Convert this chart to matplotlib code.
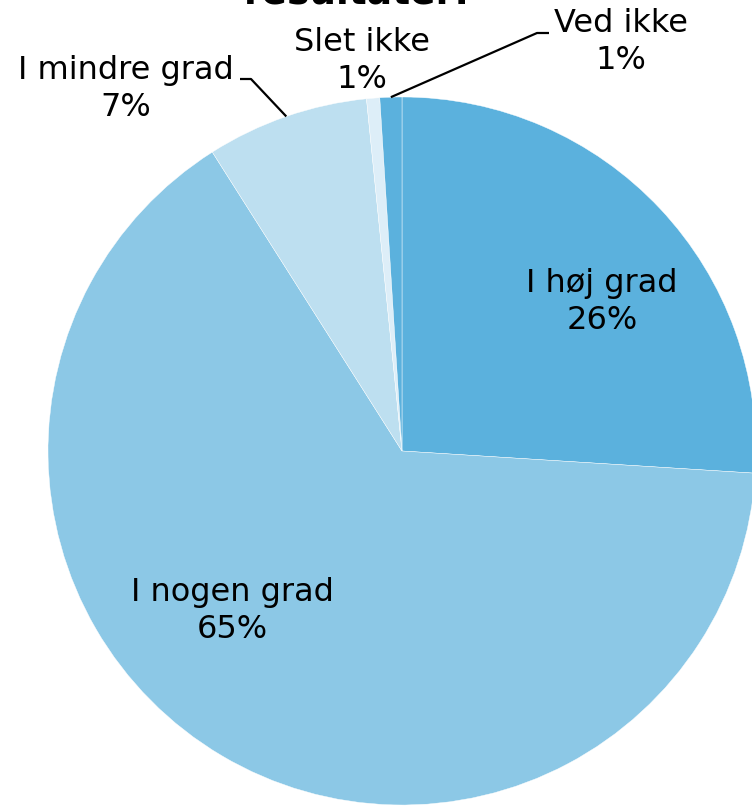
import numpy as np
import matplotlib.pyplot as plt

# data
categories = ['I høj grad', 'I nogen grad', 'I mindre grad', 'Slet ikke', 'Ved ikke']
values = [26.0, 65.0, 7.4, 0.6, 1.0]
pct_labels = ['26%', '65%', '7%', '1%', '1%']
colors = ['#5BB1DD', '#8CC8E6', '#BDDFF0', '#DDEEF8', '#5BB1DD']

W, H = 752, 806
fig = plt.figure(figsize=(W / 100, H / 100), dpi=100)
ax = fig.add_axes([0, 0, 1, 1])

cx, cy, r = 402, H - 451, 354
wedges, _ = ax.pie(values, colors=colors, startangle=90, counterclock=False,
                   center=(cx, cy), radius=r, frame=True,
                   wedgeprops=dict(edgecolor='white', linewidth=0.3))
ax.set_xlim(0, W)
ax.set_ylim(0, H)
ax.set_aspect('equal')
ax.set_axis_off()

fs = 23
ls = 1.28
# inside labels
inside = {0: (602, H - 302), 1: (232, H - 611)}
for i, (x, y) in inside.items():
    ax.text(x, y, f'{categories[i]}\n{pct_labels[i]}', ha='center', va='center',
            fontsize=fs, color='black', linespacing=ls)

# outside labels with leader lines
outside = {
    2: dict(text=(126, H - 89), elbow=[(240, H - 79), (251, H - 79)]),
    3: dict(text=(362, H - 61), elbow=None),
    4: dict(text=(621, H - 42), elbow=[(549, H - 33), (537, H - 33)]),
}
for i, o in outside.items():
    ax.text(o['text'][0], o['text'][1], f'{categories[i]}\n{pct_labels[i]}',
            ha='center', va='center', fontsize=fs, color='black', linespacing=ls)
    if o['elbow'] is not None:
        w = wedges[i]
        ang = np.deg2rad((w.theta1 + w.theta2) / 2)
        px, py = cx + r * np.cos(ang), cy + r * np.sin(ang)
        xs = [p[0] for p in o['elbow']] + [px]
        ys = [p[1] for p in o['elbow']] + [py]
        ax.plot(xs, ys, color='black', linewidth=1.6, solid_capstyle='butt')

# title cut off at top
ax.text(357, H - 3, 'resultater:', ha='center', va='baseline', fontsize=27,
        fontweight='bold', color='black')

fig.savefig('out.png', dpi=100)
